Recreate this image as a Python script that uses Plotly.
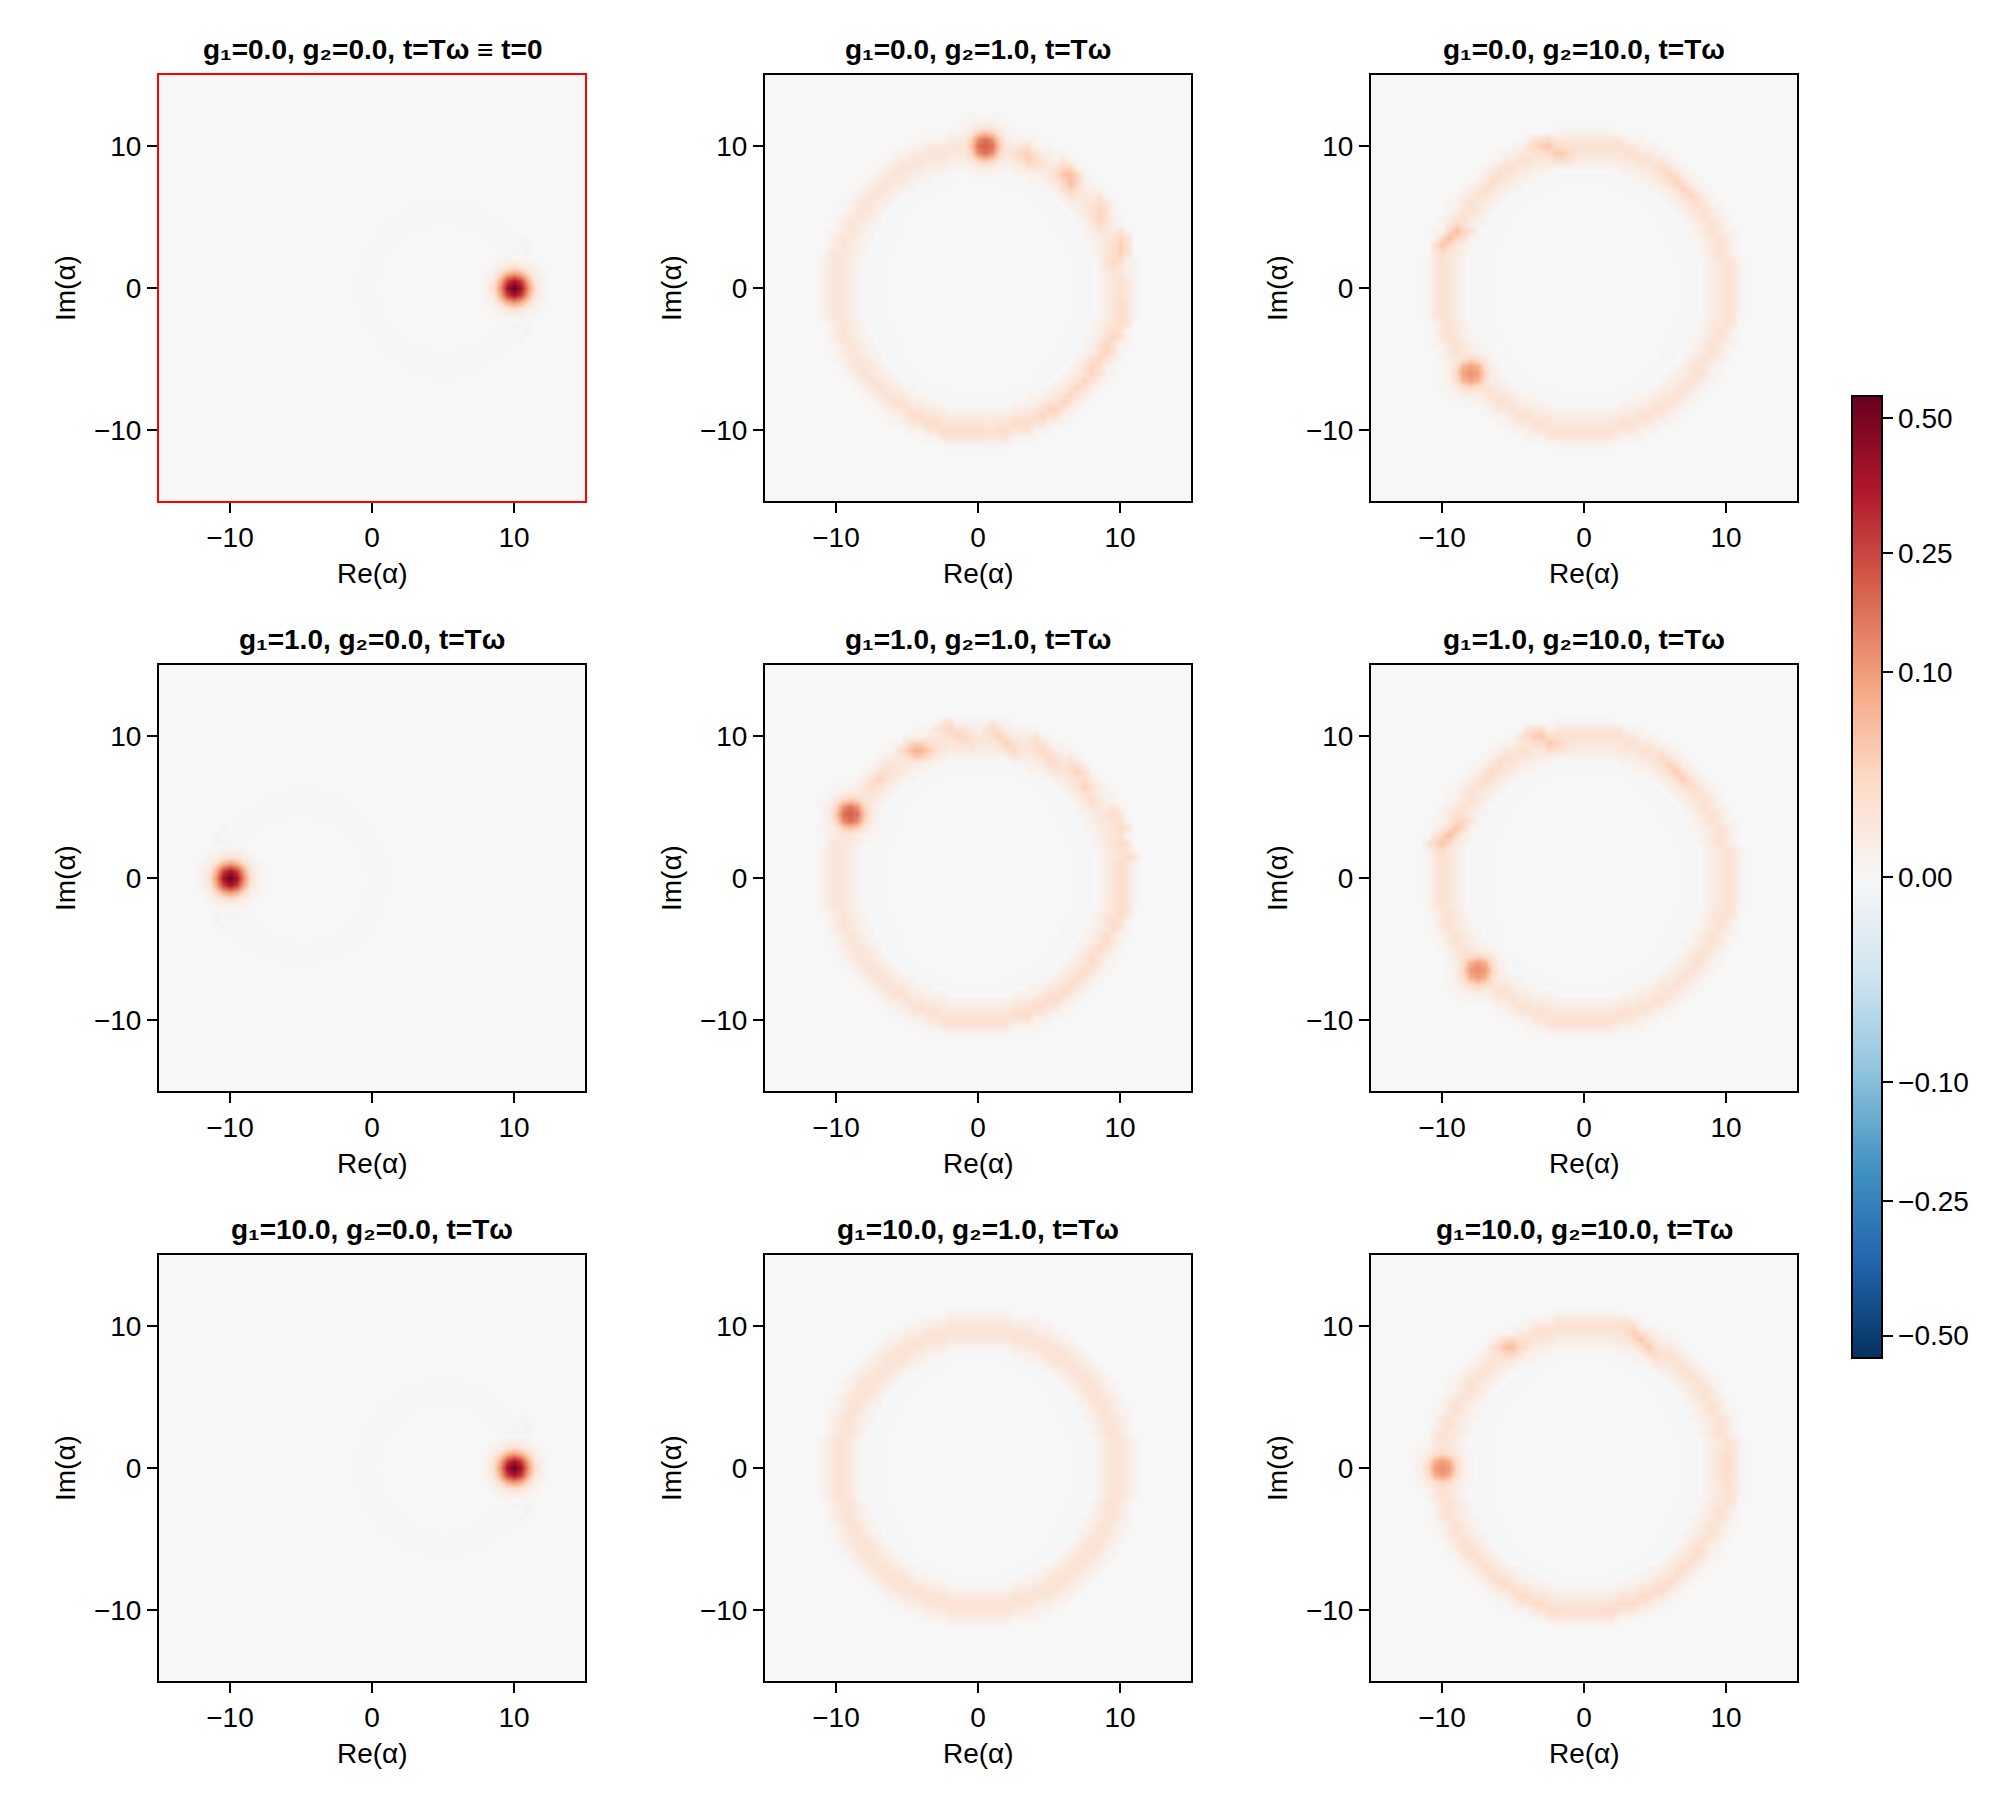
import numpy as np
import plotly.graph_objects as go

# titles and tick labels
TITLES = [
    "g₁=0.0, g₂=0.0, t=Tω ≡ t=0", "g₁=0.0, g₂=1.0, t=Tω", "g₁=0.0, g₂=10.0, t=Tω",
    "g₁=1.0, g₂=0.0, t=Tω", "g₁=1.0, g₂=1.0, t=Tω", "g₁=1.0, g₂=10.0, t=Tω",
    "g₁=10.0, g₂=0.0, t=Tω", "g₁=10.0, g₂=1.0, t=Tω", "g₁=10.0, g₂=10.0, t=Tω",
]
AXIS_TICKS = [-10, 0, 10]
CBAR_VALUES = [-0.5, -0.25, -0.1, 0.0, 0.1, 0.25, 0.5]
CBAR_LABELS = ["−0.50", "−0.25", "−0.10", "0.00", "0.10", "0.25", "0.50"]
VALUE_MAX = 0.55

BIG_RING = [
    "", "",
    "11111",
    "222221111",
    "44444332111",
    "4444444432211",
    "33333444443211",
    "111112334444321",
    "-----11123444321",
    "0000---1113444321",
    "000000---112344321",
    "00000000---12344321",
    "000000000---12344311",
    "0000000000---1244421",
    "00000000000---1344321",
    "00000000000---1134421",
    "000000000000---1244311",
    "000000000000---1134421",
    "0000000000000---124431",
    "0000000000000---124431",
    "00000000000000---134421",
    "00000000000000---134421",
    "00000000000000---134421",
    "00000000000000---134421",
    "00000000000000---134421",
]
SOFT_RING_LEVELS = {"0": 0.0, "-": -0.0001, "1": 0.001, "2": 0.003, "3": 0.006, "4": 0.0105}
SWIRL_RING_LEVELS = {"0": 0.0, "-": -0.0002, "1": 0.0006, "2": 0.0018, "3": 0.0035, "4": 0.0065}

# cells along the ring crest, east to south; the other three quadrants are this one turned
CREST_X = [10, 10, 10, 10, 10, 10, 9.5, 9.5, 9, 9, 8.5, 8, 8, 7.5, 7, 6.5, 6, 5.5, 5, 4.5, 4, 3.5, 3, 2.5, 2, 1.5, 1, 0.5]
CREST_Y = [0, -0.5, -1, -1.5, -2, -2.5, -3, -3.5, -4, -4.5, -5, -5.5, -6, -6.5, -7, -7.5, -8, -8.5, -8.5, -9, -9, -9.5, -9.5, -9.5, -10, -10, -10, -10]
CREST_LEVELS = {"0": 0.0, "4": 0.01, "5": 0.014, "6": 0.02, "7": 0.028, "8": 0.04}

# crest brightness read clockwise: SE, SW, NW, NE quadrants
P2_CREST = ["5566666777777777777766666655", "6666666666555555544444444444",
            "4444444444444444444444444444", "0000000000000000000000000005"]
P3_CREST = ["5555555555555555555555555555", "5555555555555555555555555555",
            "5555555555555555555555555555", "5555555555555555555555555555"]
P5_CREST = ["6666666666666666666666665555", "5555555555555555444444444444",
            "4444444444444444444444444444", "0000000000000000000000000066"]
P6_CREST = ["5555555555555555555555555555", "5555555555555555555555555555",
            "5555555555555555555555555555", "5555555555555555555555555555"]
P9_CREST = ["6655555555556666666666666655", "5555666666666666655555555555",
            "4444555555555555555555555555", "5555555555555555555555555566"]
CRESTS = [None, P2_CREST, P3_CREST, None, P5_CREST, P6_CREST, None, None, P9_CREST]

# faint ring around the coherent state: one quadrant, y=6.5..0, dx=0..6.5, step 0.5
FAINT_RING = [
    "",
    "111",
    "111111",
    "1111111",
    "001111111",
    "0000011111",
    "0000001111",
    "00000001111",
    "000000001111",
    "000000000111",
    "000000000111",
    "0000000001111",
    "0000000000111",
    "0000000000111",
]
FAINT_VALUE = -0.00012

# bright spot of the undriven panels, dx and dy from -2 to 2 in steps of 0.5
SPOT_STRONG = [
    [0, 0, 0.0005, 0.001, 0.001, 0.001, 0.0005, 0, 0],
    [0, 0.001, 0.002, 0.008, 0.014, 0.008, 0.002, 0.001, 0],
    [0.0005, 0.002, 0.022, 0.075, 0.11, 0.075, 0.022, 0.002, 0.0005],
    [0.001, 0.008, 0.075, 0.26, 0.38, 0.26, 0.075, 0.008, 0.001],
    [0.001, 0.014, 0.11, 0.38, 0.55, 0.38, 0.11, 0.014, 0.001],
    [0.001, 0.008, 0.075, 0.26, 0.38, 0.26, 0.075, 0.008, 0.001],
    [0.0005, 0.002, 0.022, 0.075, 0.11, 0.075, 0.022, 0.002, 0.0005],
    [0, 0.001, 0.002, 0.008, 0.014, 0.008, 0.002, 0.001, 0],
    [0, 0, 0.0005, 0.001, 0.001, 0.001, 0.0005, 0, 0],
]
# flatter spot of the driven panels, as a share of its peak
SPOT_WEAK = [
    [0, 0, 0.002, 0.002, 0.002, 0.002, 0.002, 0, 0],
    [0, 0.002, 0.005, 0.015, 0.025, 0.015, 0.005, 0.002, 0],
    [0.002, 0.005, 0.04, 0.14, 0.22, 0.14, 0.04, 0.005, 0.002],
    [0.002, 0.015, 0.14, 0.6, 0.85, 0.6, 0.14, 0.015, 0.002],
    [0.002, 0.025, 0.22, 0.85, 1.0, 0.85, 0.22, 0.025, 0.002],
    [0.002, 0.015, 0.14, 0.6, 0.85, 0.6, 0.14, 0.015, 0.002],
    [0.002, 0.005, 0.04, 0.14, 0.22, 0.14, 0.04, 0.005, 0.002],
    [0, 0.002, 0.005, 0.015, 0.025, 0.015, 0.005, 0.002, 0],
    [0, 0, 0.002, 0.002, 0.002, 0.002, 0.002, 0, 0],
]

# spot centre and peak per panel
SPOT_X = [10, 0.5, -8, -10, -9, -7.5, 10, None, -10]
SPOT_Y = [0, 10, -6, 0, 4.5, -6.5, 0, None, 0]
SPOT_PEAK = [None, 0.2, 0.11, None, 0.2, 0.12, None, None, 0.12]

# faint ring centre per panel
FAINT_X = [5, None, None, -5, None, None, 5, None, None]

# blue stripes beside the coherent state
STRIPE_DX = [1, 1, 1, 1, 0.5, 0, 0, 1, 1, 1, 1, 0.5, 0, 0]
STRIPE_DY = [1.5, 2, 2.5, 3, 3.5, 2, 2.5, -1.5, -2, -2.5, -3, -3.5, -2, -2.5]
STRIPE_VALUE = -0.0008

# sharp streaks of the swirled panels: x, y, value
P2_X = [3, 3.5, 3.5, 4, 6, 6, 6.5, 6.5, 6.5, 8.5, 8.5, 8.5, 8.5, 10, 10, 10, 9.5, 9.5]
P2_Y = [9.5, 9.5, 9, 9, 8.5, 8, 8, 7.5, 7, 6, 5.5, 5, 4.5, 3.5, 3, 2.5, 2, 1.5]
P2_V = [0.025, 0.03, 0.03, 0.025, 0.02, 0.045, 0.05, 0.05, 0.03, 0.02, 0.028, 0.028, 0.02, 0.025, 0.032, 0.032, 0.025, 0.018]

P3_X = [-3.5, -3, -2.5, -2, -1.5, -1, -10, -9.5, -9, -8.5, 5.5, 6, 6.5, 7, 7.5, 8, -7, -6.5, -6]
P3_Y = [10, 10, 10, 9.5, 9.5, 9.5, 3, 3.5, 4, 4, 8.5, 8, 7.5, 7, 6.5, 6, 7, 7.5, 8]
P3_V = [0.022, 0.035, 0.04, 0.04, 0.035, 0.022, 0.04, 0.05, 0.05, 0.03, 0.02, 0.026, 0.032, 0.032, 0.026, 0.018, 0.02, 0.02, 0.018]

P5_X = [-5, -4.5, -4, -3.5, -7.5, -7, -6.5, -2.5, -2, -1.5, -1, -0.5, 1, 1.5, 2, 2.5, 4, 4.5, 5, 5.5,
        6.5, 7, 7.5, 8, 9.5, 10, 10, 10.5]
P5_Y = [9, 9, 9, 9, 6.5, 7, 7.5, 10.5, 10.5, 10, 10, 9.5, 10.5, 10, 9.5, 9, 9.5, 9, 8.5, 8,
        8, 7.5, 6.5, 5.5, 4.5, 3.5, 2.5, 1.5]
P5_V = [0.035, 0.065, 0.065, 0.035, 0.02, 0.03, 0.02, 0.018, 0.028, 0.028, 0.024, 0.016, 0.02, 0.032, 0.032, 0.02, 0.018, 0.026, 0.026, 0.018,
        0.018, 0.03, 0.032, 0.02, 0.02, 0.024, 0.024, 0.022]

P6_X = [-4, -3.5, -3, -2.5, -2, -1.5, -10.5, -10, -9.5, -9, -8.5, 5.5, 6, 6.5, 7, 7.5, -7, -6.5, -6]
P6_Y = [10, 10, 10, 9.5, 9.5, 9.5, 2.5, 2.5, 3, 3.5, 4, 8.5, 8, 7.5, 7, 6.5, 7, 7.5, 8]
P6_V = [0.02, 0.034, 0.04, 0.04, 0.03, 0.02, 0.026, 0.045, 0.05, 0.045, 0.026, 0.02, 0.03, 0.038, 0.034, 0.02, 0.022, 0.024, 0.02]

P9_X = [-6, -5.5, -5, -4.5, 3, 3.5, 4, 4.5, 5]
P9_Y = [8.5, 8.5, 8.5, 8.5, 10, 9.5, 9, 8.5, 8]
P9_V = [0.025, 0.05, 0.05, 0.025, 0.018, 0.036, 0.042, 0.036, 0.02]

STREAKS = [None, (P2_X, P2_Y, P2_V), (P3_X, P3_Y, P3_V), None, (P5_X, P5_Y, P5_V),
           (P6_X, P6_Y, P6_V), None, None, (P9_X, P9_Y, P9_V)]
RING_LEVELS = [None, SWIRL_RING_LEVELS, SWIRL_RING_LEVELS, None, SWIRL_RING_LEVELS,
               SWIRL_RING_LEVELS, None, SOFT_RING_LEVELS, SWIRL_RING_LEVELS]

# ColorBrewer RdBu, blue at the low end
RDBU = ["#053061", "#2166ac", "#4393c3", "#92c5de", "#d1e5f0", "#f7f7f7",
        "#fddbc7", "#f4a582", "#d6604d", "#b2182b", "#67001f"]

GRID = np.arange(-15, 15.5, 0.5)


def cell(v):
    return int(round((v + 15) * 2))


def stamp(z, x, y, v):
    a, b = cell(y), cell(x)
    # a streak is about three cells wide, so its neighbours get half of it
    for da, db in ((0, 1), (0, -1), (1, 0), (-1, 0)):
        z[a + da, b + db] = max(z[a + da, b + db], v * 0.5)
    z[a, b] = max(z[a, b], v)


def build_panel(i):
    z = np.zeros((61, 61))
    if RING_LEVELS[i]:
        for r, row in enumerate(BIG_RING):
            y = 12 - r * 0.5
            for c, ch in enumerate(row):
                x = c * 0.5
                for sx in (1, -1):
                    for sy in (1, -1):
                        z[cell(sy * y), cell(sx * x)] = RING_LEVELS[i][ch]
    if FAINT_X[i] is not None:
        for r, row in enumerate(FAINT_RING):
            y = 6.5 - r * 0.5
            for c, ch in enumerate(row):
                if ch == "1":
                    for sx in (1, -1):
                        for sy in (1, -1):
                            z[cell(sy * y), cell(FAINT_X[i] + sx * c * 0.5)] = FAINT_VALUE
        side = 1 if SPOT_X[i] > 0 else -1
        for dx, dy in zip(STRIPE_DX, STRIPE_DY):
            z[cell(dy), cell(SPOT_X[i] + side * dx)] = STRIPE_VALUE
    if CRESTS[i]:
        qx, qy = CREST_X, CREST_Y
        for quad in CRESTS[i]:
            for x, y, ch in zip(qx, qy, quad):
                if ch != "0":
                    stamp(z, x, y, CREST_LEVELS[ch])
            # next quadrant clockwise
            qx, qy = list(qy), [-x for x in qx]
    if STREAKS[i]:
        for x, y, v in zip(*STREAKS[i]):
            stamp(z, x, y, v)
    if SPOT_X[i] is not None:
        table, peak = (SPOT_STRONG, 1.0) if SPOT_PEAK[i] is None else (SPOT_WEAK, SPOT_PEAK[i])
        for r, row in enumerate(table):
            for c, v in enumerate(row):
                a, b = cell(SPOT_Y[i] + (r - 4) * 0.5), cell(SPOT_X[i] + (c - 4) * 0.5)
                z[a, b] = max(z[a, b], v * peak)
    # colours run on a signed square root scale
    return np.sign(z) * np.sqrt(np.abs(z))


# panel frames in pixels
W, H = 2000, 1800
LEFTS = [159, 765, 1371]
TOPS = [75, 665, 1255]
SIZE = 426

fig = go.Figure()
notes = []
font_main = dict(family="Liberation Sans", size=28, color="black")
for i in range(9):
    col, row = i % 3, i // 3
    l, t = LEFTS[col], TOPS[row]
    n = "" if i == 0 else str(i + 1)
    fig.add_trace(go.Heatmap(x=GRID, y=GRID, z=build_panel(i), zsmooth="best", coloraxis="coloraxis",
                             xaxis="x" + n, yaxis="y" + n))
    spine = "red" if i == 0 else "black"
    axis = dict(range=[-15, 15], tickvals=AXIS_TICKS, ticks="outside", ticklen=10, tickwidth=2, tickcolor="black",
                showgrid=False, zeroline=False, showline=True, mirror=True, linewidth=2, linecolor=spine,
                tickfont=font_main)
    fig.update_layout({
        "xaxis" + n: dict(axis, domain=[l / W, (l + SIZE) / W], anchor="y" + n),
        "yaxis" + n: dict(axis, domain=[1 - (t + SIZE) / H, 1 - t / H], anchor="x" + n),
    })
    cx, cy = l + SIZE / 2, t + SIZE / 2
    notes.append(dict(text="<b>" + TITLES[i] + "</b>", x=cx / W, y=1 - (t - 26) / H,
                      font=font_main))
    notes.append(dict(text="Re(α)", x=cx / W, y=1 - (t + SIZE + 72) / H, font=font_main))
    notes.append(dict(text="Im(α)", x=(l - 94) / W, y=1 - cy / H, textangle=-90, font=font_main))

for a in notes:
    a.update(xref="paper", yref="paper", showarrow=False, xanchor="center", yanchor="middle")

cmax = np.sqrt(VALUE_MAX)
fig.update_layout(
    width=W, height=H, margin=dict(l=0, r=0, t=0, b=0),
    paper_bgcolor="white", plot_bgcolor="#f7f7f7", annotations=notes,
    coloraxis=dict(
        cmin=-cmax, cmax=cmax,
        colorscale=[[k / 10, c] for k, c in enumerate(RDBU)],
        colorbar=dict(
            thicknessmode="pixels", thickness=30, lenmode="pixels", len=962,
            x=1852 / W, xanchor="left", xpad=0, y=1 - 877 / H, yanchor="middle", ypad=0,
            tickmode="array",
            tickvals=[np.sign(v) * np.sqrt(abs(v)) for v in CBAR_VALUES], ticktext=CBAR_LABELS,
            ticks="outside", ticklen=10, tickwidth=2, tickcolor="black",
            outlinewidth=2, outlinecolor="black", tickfont=font_main,
        ),
    ),
)
fig.write_html("out.html", config=dict(displayModeBar=False), post_script="document.body.style.margin='0';")
